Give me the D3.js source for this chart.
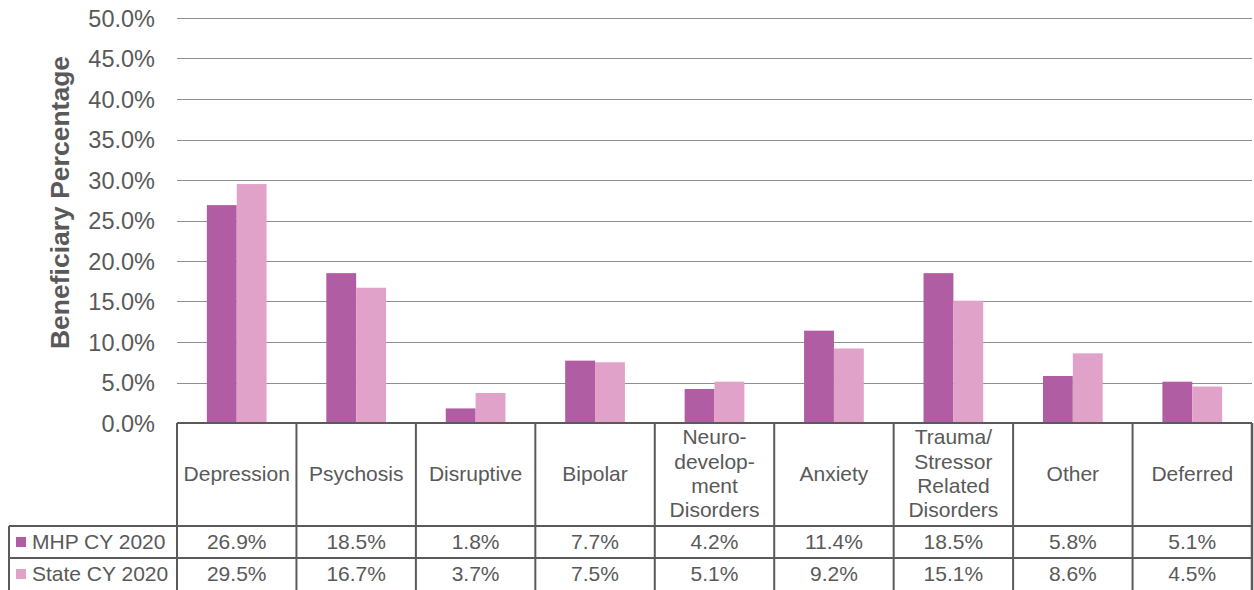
<!DOCTYPE html>
<html><head><meta charset="utf-8">
<script src="https://cdn.jsdelivr.net/npm/d3@7"></script>
<style>
html,body{margin:0;padding:0;background:#fff;}
svg{display:block;font-family:"Liberation Sans",Arial,sans-serif;}
</style></head>
<body>
<svg id="c" width="1254" height="590"></svg>
<script>
const categories = ["Depression","Psychosis","Disruptive","Bipolar","Neuro-development Disorders","Anxiety","Trauma/Stressor Related Disorders","Other","Deferred"];
const categoryLines = [["Depression"],["Psychosis"],["Disruptive"],["Bipolar"],["Neuro-","develop-","ment","Disorders"],["Anxiety"],["Trauma/","Stressor","Related","Disorders"],["Other"],["Deferred"]];
const seriesNames = ["MHP CY 2020","State CY 2020"];
const mhpValues = [26.9,18.5,1.8,7.7,4.2,11.4,18.5,5.8,5.1];
const stateValues = [29.5,16.7,3.7,7.5,5.1,9.2,15.1,8.6,4.5];
const yTicks = [0,5,10,15,20,25,30,35,40,45,50];
const seriesColors = ["#B05DA3","#E0A2C8"];

(function(){
const svg = d3.select("#c");
const textColor = "#595959";
const plotLeft = 177, plotRight = 1252, plotTop = 18, plotBase = 423;
const tableLeft = 9, row1 = 526, row2 = 558, row3 = 592;

const y = d3.scaleLinear().domain([0,50]).range([plotBase, plotTop]);
const x = d3.scaleBand().domain(categories).range([plotLeft, plotRight]).padding(0);
const bw = x.bandwidth();
const x1 = d3.scaleBand().domain(seriesNames).range([bw*0.25, bw*0.75]).padding(0);

// gridlines
svg.append("g").selectAll("line").data(yTicks.filter(t=>t>0)).join("line")
  .attr("x1", plotLeft).attr("x2", plotRight)
  .attr("y1", d=>Math.round(y(d))+0.5).attr("y2", d=>Math.round(y(d))+0.5)
  .attr("stroke", "#8f8f8f").attr("stroke-width", 1.2);

// y axis labels
const yAxis = d3.axisLeft(y).tickValues(yTicks).tickSize(0).tickPadding(0)
  .tickFormat(d=>d3.format(".1f")(d)+"%");
const ag = svg.append("g").attr("transform", `translate(155,0)`).call(yAxis);
ag.select(".domain").remove();
ag.selectAll("text").attr("font-size", 23.5).attr("fill", textColor)
  .attr("font-family", "Liberation Sans, Arial, sans-serif").attr("dy","0.35em");

// y title
svg.append("text").attr("transform", `translate(69,${(55+350)/2}) rotate(-90)`)
  .attr("text-anchor","middle").attr("font-size", 26.5).attr("font-weight","bold")
  .attr("fill", textColor).text("Beneficiary Percentage");

// bars
const data = categories.map((c,i)=>({cat:c, vals:[mhpValues[i], stateValues[i]]}));
const groups = svg.append("g").selectAll("g").data(data).join("g")
  .attr("transform", d=>`translate(${x(d.cat)},0)`);
groups.selectAll("rect").data(d=>d.vals.map((v,j)=>({s:seriesNames[j], v, j}))).join("rect")
  .attr("x", d=>x1(d.s)).attr("width", x1.bandwidth())
  .attr("y", d=>y(d.v)).attr("height", d=>y(0)-y(d.v))
  .attr("fill", d=>seriesColors[d.j]);

// table
const tg = svg.append("g");
const lc = "#5a5a5a";
const hl = (xa,xb,yy,w)=>tg.append("line").attr("x1",xa).attr("x2",xb).attr("y1",yy).attr("y2",yy).attr("stroke",lc).attr("stroke-width",w||2);
const vl = (xx,ya,yb,w)=>tg.append("line").attr("x1",xx).attr("x2",xx).attr("y1",ya).attr("y2",yb).attr("stroke",lc).attr("stroke-width",w||2);
hl(plotLeft, plotRight, plotBase, 2);
hl(tableLeft, plotRight, row1, 2);
hl(tableLeft, plotRight, row2, 2);
vl(tableLeft, row1, row3, 2);
categories.forEach(c=>vl(x(c), plotBase, row3, 2));
vl(plotRight, plotBase, row3, 2.5);

// header labels
categories.forEach((c,i)=>{
  const lines = categoryLines[i];
  const lh = 24.3;
  const cy = (plotBase+row1)/2 - 1;
  const t = tg.append("text").attr("text-anchor","middle").attr("font-size",21)
    .attr("fill", textColor);
  lines.forEach((ln,k)=>{
    t.append("tspan").attr("x", x(c)+bw/2)
      .attr("y", cy + (k-(lines.length-1)/2)*lh).attr("dy","0.35em").text(ln);
  });
});

// data rows
const rows = [{name:seriesNames[0], vals:mhpValues, cy:542},
              {name:seriesNames[1], vals:stateValues, cy:574}];
rows.forEach((r,ri)=>{
  const cy = r.cy;
  tg.append("rect").attr("x",16).attr("y",cy-5).attr("width",10).attr("height",10).attr("fill",seriesColors[ri]);
  tg.append("text").attr("x",32).attr("y",cy).attr("dy","0.35em").attr("font-size",21)
    .attr("fill",textColor).text(r.name);
  r.vals.forEach((v,i)=>{
    tg.append("text").attr("x", x(categories[i])+bw/2).attr("y",cy).attr("dy","0.35em")
      .attr("text-anchor","middle").attr("font-size",21).attr("fill",textColor)
      .text(d3.format(".1f")(v)+"%");
  });
});
})();
</script>
</body></html>
